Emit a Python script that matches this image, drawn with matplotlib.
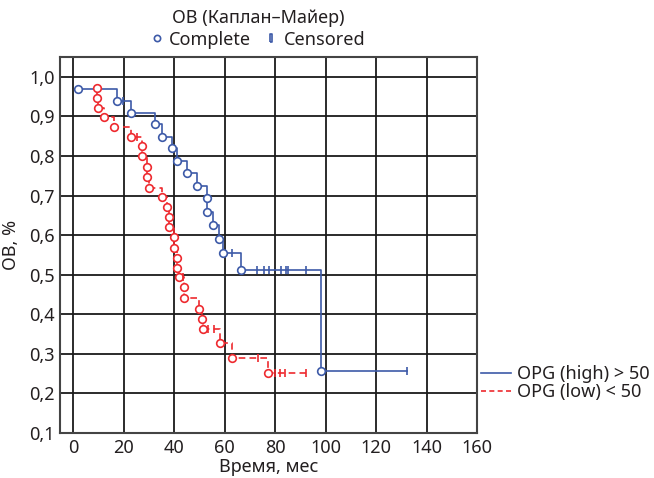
import numpy as np
import matplotlib
matplotlib.use("Agg")
import matplotlib.pyplot as plt
from matplotlib.lines import Line2D

plt.rcParams['font.family'] = ['Noto Sans', 'DejaVu Sans']

# OPG (high) > 50 : event times, survival after event, censored times
high_t = [1.9, 17.3, 22.9, 32.4, 35.1, 39.1, 41.1, 45.1, 49.0, 53.0, 53.0, 55.4, 57.7, 59.3, 66.5, 98.2]
high_s = [0.970, 0.939, 0.909, 0.881, 0.848, 0.821, 0.788, 0.757, 0.725, 0.694, 0.659, 0.626, 0.590, 0.555, 0.512, 0.257]
high_cens = [19.7, 62.9, 72.8, 75.6, 77.6, 82.3, 84.3, 85.1, 92.2, 132.2]

# OPG (low) < 50
low_t = [9.2, 9.3, 9.8, 12.2, 16.1, 22.9, 27.2, 27.2, 29.2, 29.2, 30.0, 35.2, 37.1, 37.9, 37.9,
         39.7, 39.9, 41.1, 41.1, 41.9, 43.9, 43.9, 50.0, 51.0, 51.4, 58.1, 62.9, 77.2]
low_s = [0.972, 0.947, 0.922, 0.899, 0.874, 0.848, 0.825, 0.800, 0.773, 0.748, 0.720, 0.697, 0.672, 0.646, 0.620,
         0.594, 0.568, 0.543, 0.518, 0.493, 0.468, 0.441, 0.413, 0.387, 0.362, 0.328, 0.290, 0.252]
low_cens = [25.2, 43.3, 53.4, 55.8, 73.2, 79.9, 81.9, 83.9, 92.2]

x_ticks = [0, 20, 40, 60, 80, 100, 120, 140, 160]
y_ticks = [0.1, 0.2, 0.3, 0.4, 0.5, 0.6, 0.7, 0.8, 0.9, 1.0]

blue = '#3d5aa8'
red = '#ee2a2f'
txt = '#231f20'


def surv_at(times, surv, t):
    # survival value of the step function at time t
    idx = np.searchsorted(times, t, side='right') - 1
    return np.where(idx >= 0, np.array(surv)[np.clip(idx, 0, None)], 1.0)


def km_line(ax, times, surv, cens, color, ls):
    end = max(max(times), max(cens))
    xs = list(times) + [end]
    ys = list(surv) + [surv[-1]]
    ax.plot(xs, ys, drawstyle='steps-post', color=color, lw=1.2, linestyle=ls, zorder=3)
    ax.plot(times, surv, 'o', mfc='white', mec=color, mew=1.2, ms=5.5, linestyle='none', zorder=4)
    cs = surv_at(np.array(times), surv, np.array(cens))
    ax.plot(cens, cs, '|', color=color, ms=6, mew=1.2, linestyle='none', zorder=4)


fig = plt.figure(figsize=(6.54, 4.78), dpi=100)
ax = fig.add_axes([0.0917, 0.0941, 0.6377, 0.7867])

km_line(ax, high_t, high_s, high_cens, blue, '-')
km_line(ax, low_t, low_s, low_cens, red, (0, (4, 2.5)))

ax.set_xlim(-5.3, 160)
ax.set_ylim(0.1, 1.05)
ax.set_xticks(x_ticks)
ax.set_yticks(y_ticks)
ax.set_yticklabels([("%.1f" % v).replace('.', ',') for v in y_ticks])
ax.grid(True, color='#1a1a1a', lw=1.3)
ax.set_axisbelow(True)
ax.tick_params(length=0, labelsize=13, colors=txt, pad=4)
for sp in ax.spines.values():
    sp.set_color('#444444')
    sp.set_linewidth(1.5)

ax.set_xlabel("Время, мес", fontsize=13, color=txt, labelpad=1)
ax.set_ylabel("ОВ, %", fontsize=13, color=txt, labelpad=6)

fig.text(0.395, 0.962, "ОВ (Каплан–Майер)", ha='center', va='center', fontsize=13, color=txt)

rect = [(-0.35, -1), (0.35, -1), (0.35, 1), (-0.35, 1), (-0.35, -1)]
top_handles = [
    Line2D([], [], marker='o', mfc='white', mec=blue, mew=1.2, ms=4.5, linestyle='none'),
    Line2D([], [], marker=rect, mfc='white', mec=blue, mew=1.2, ms=6, linestyle='none'),
]
fig.legend(top_handles, ["Complete", "Censored"], loc='center', bbox_to_anchor=(0.395, 0.917),
           ncol=2, frameon=False, fontsize=13, handlelength=0.6, handletextpad=0.4,
           columnspacing=0.8, labelcolor=txt, borderpad=0)

right_handles = [
    Line2D([], [], color=blue, lw=1.2),
    Line2D([], [], color=red, lw=1.2, linestyle=(0, (3, 2))),
]
fig.legend(right_handles, ["OPG (high) > 50", "OPG (low) < 50"], loc='center left',
           bbox_to_anchor=(0.736, 0.198), frameon=False, fontsize=13, handlelength=1.65,
           handletextpad=0.3, labelspacing=0.0, labelcolor=txt, borderpad=0, borderaxespad=0)

fig.savefig("out.png", dpi=100)
